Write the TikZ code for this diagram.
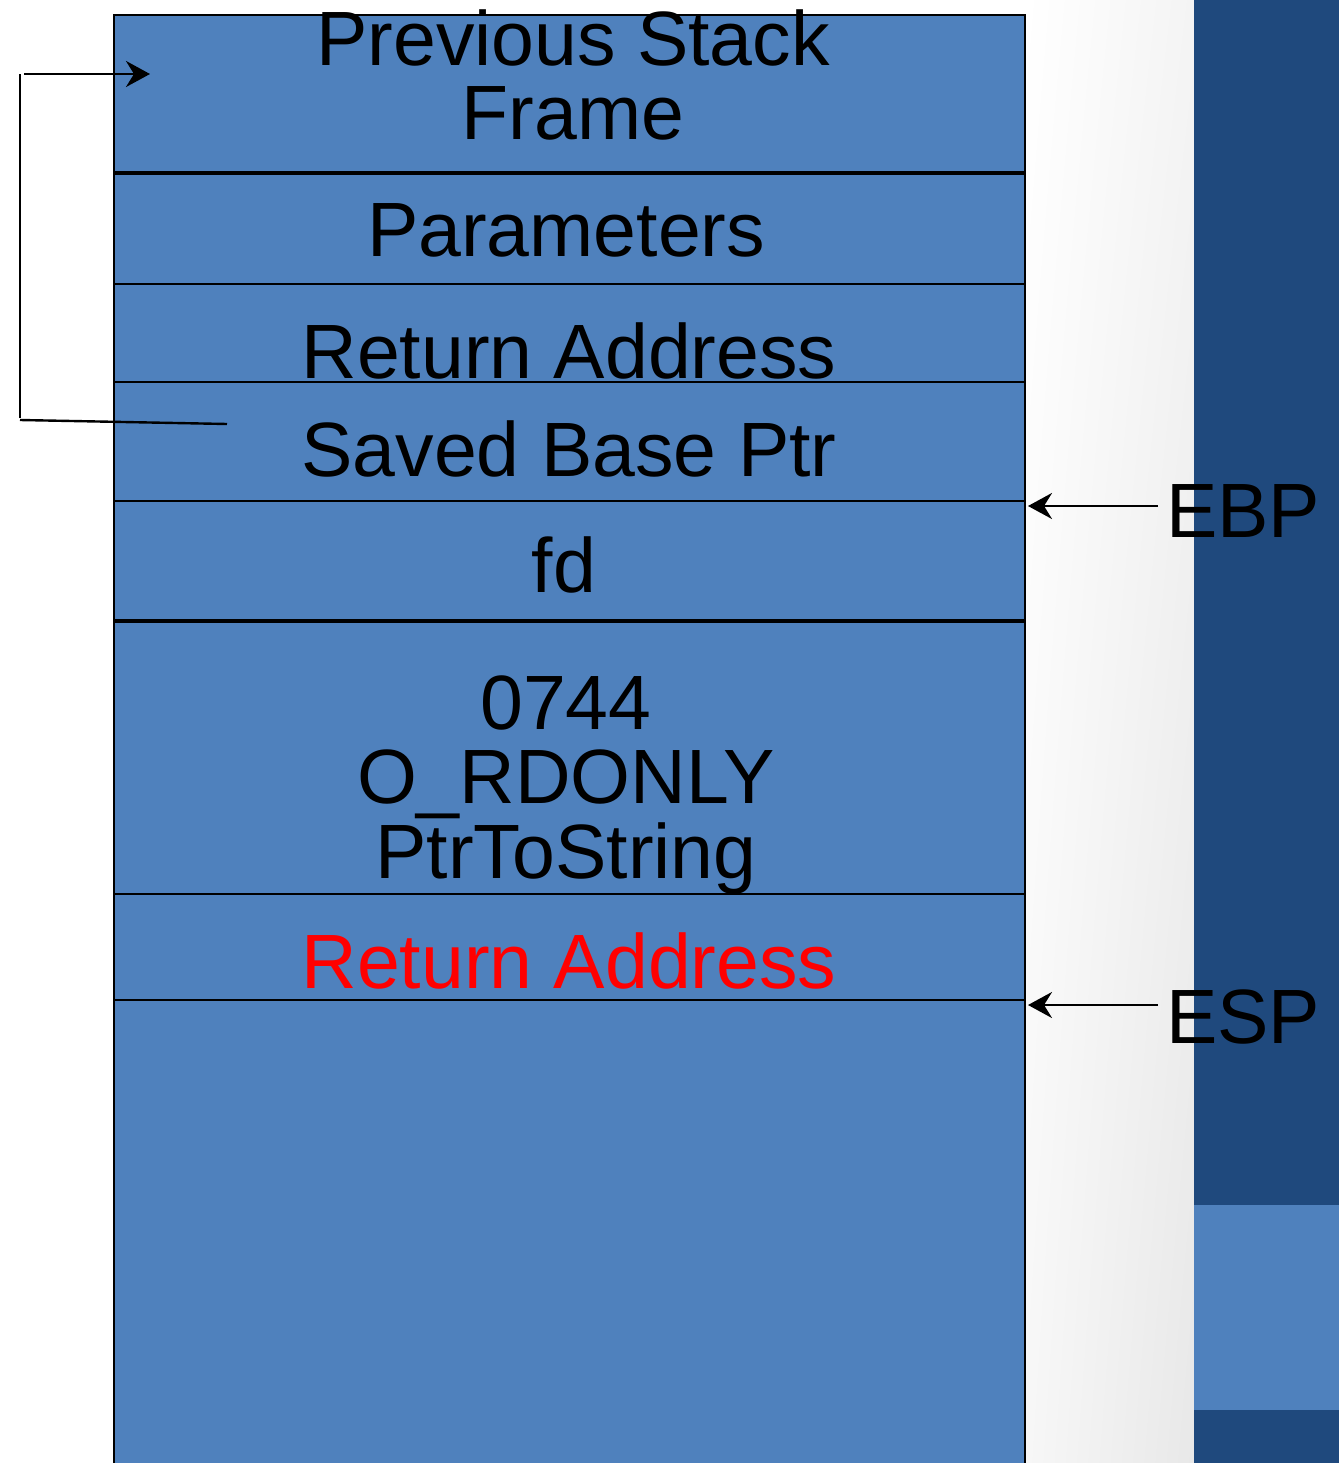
\documentclass[tikz,border=0pt]{standalone}
\usepackage{fontspec}
\setmainfont{Liberation Sans}
\usetikzlibrary{arrows.meta,shadings}
\definecolor{cellblue}{RGB}{79,129,189}
\definecolor{darkpanel}{RGB}{31,73,125}
\definecolor{gradA}{RGB}{255,255,255}
\definecolor{gradB}{RGB}{244,244,244}
\definecolor{gradC}{RGB}{247,247,247}
\definecolor{gradD}{RGB}{232,232,232}
\definecolor{redtext}{RGB}{255,0,0}
\begin{document}
\begin{tikzpicture}[x=1pt,y=-1pt,
  lbl/.style={anchor=base,inner sep=0pt,align=center,font=\fontsize{77}{74.5}\selectfont},
  reg/.style={anchor=base west,inner sep=0pt,font=\fontsize{77}{74.5}\selectfont},
  thinrule/.style={line width=2.2pt},
  thickrule/.style={line width=4.5pt},
  ptr/.style={line width=2.6pt,-{Stealth[length=24pt,width=26pt,inset=8pt]}},
  lead/.style={line width=2.4pt}]
\useasboundingbox (0,0) rectangle (1339,1463);
\clip (0,0) rectangle (1339,1463);
% background
\fill[white] (0,0) rectangle (1339,1463);
\shade[upper left=gradA,upper right=gradB,lower left=gradC,lower right=gradD] (1026,0) rectangle (1194,1463);
\fill[darkpanel] (1194,0) rectangle (1339,1463);
\fill[cellblue] (1194,1205) rectangle (1339,1410);
% stack box
\filldraw[fill=cellblue,draw=black,line width=2.4pt] (114,15) rectangle (1025,1480);
\draw[thickrule] (114,173) -- (1025,173);
\draw[thinrule] (114,284) -- (1025,284);
\draw[thinrule] (114,382) -- (1025,382);
\draw[thinrule] (114,501) -- (1025,501);
\draw[thickrule] (114,621) -- (1025,621);
\draw[thinrule] (114,894) -- (1025,894);
\draw[thinrule] (114,1000) -- (1025,1000);
% texts (multi-line nodes are placed by the baseline of their last line)
\node[lbl] (prev) at (573,140) {Previous Stack\\Frame};
\node[lbl] (params) at (566,257) {Parameters};
\node[lbl] (ret1) at (569,378) {Return Address};
\node[lbl] (sbp) at (569,476) {Saved Base Ptr};
\node[lbl] (fd) at (564,592) {fd};
\node[lbl] (args) at (566,878) {0744\\O\_RDONLY\\PtrToString};
\node[lbl,text=redtext] (ret2) at (569,988) {Return Address};
\node[reg] (ebp) at (1166,537) {EBP};
\node[reg] (esp) at (1166,1043) {ESP};
% register arrows
\coordinate (ebpTail) at (1158,506);
\coordinate (ebpTip) at (1028,506);
\coordinate (espTail) at (1158,1005);
\coordinate (espTip) at (1028,1005);
\draw[ptr] (ebpTail) -- (ebpTip);
\draw[ptr] (espTail) -- (espTip);
% saved base pointer link
\coordinate (linkStart) at (227,424);
\coordinate (linkCorner) at (20,420);
\coordinate (linkTop) at (20,74);
\coordinate (linkHead) at (24,74);
\coordinate (linkTip) at (150,74);
\draw[lead] (linkStart) -- (linkCorner);
\draw[lead] (20,418) -- (linkTop);
\draw[ptr] (linkHead) -- (linkTip);
\end{tikzpicture}
\end{document}
